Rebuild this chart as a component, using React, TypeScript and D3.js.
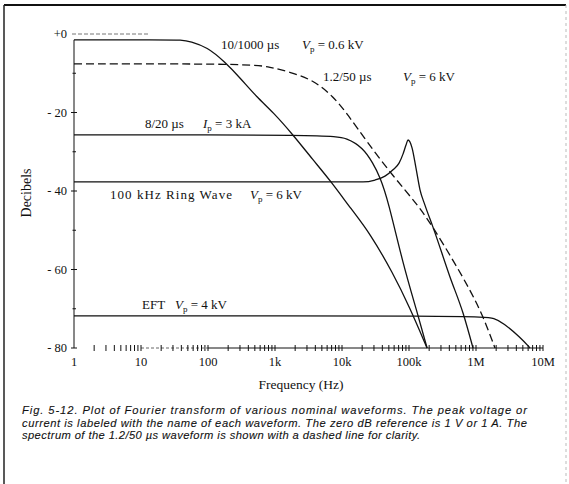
import React from 'react';
import * as d3 from 'd3';

// spectra: [frequency (Hz), level (dB)]
const wave10_1000: [number, number][] = [
  [1, -1.5], [19, -1.5], [42, -1.5], [54, -1.9], [97, -3.3], [178, -7.1],
  [302, -11.2], [537, -16.1], [933, -19.9], [1860, -25.7], [3700, -32.1],
  [6600, -37.2], [14000, -44.8], [26000, -50.7], [57500, -60.9],
  [102000, -69.6], [186000, -80],
];
const wave1_2_50: [number, number][] = [
  [1, -7.6], [424, -7.6], [842, -8.4], [1675, -9.7], [3690, -11.7],
  [7340, -15.8], [12300, -20.6], [23600, -27.5], [57700, -36.2],
  [136000, -43.6], [228000, -49.2], [454000, -57.6], [813000, -65.2],
  [1270000, -71.8], [1920000, -80],
];
const wave8_20: [number, number][] = [
  [1, -25.7], [6620, -25.7], [11900, -26.5], [20600, -29.0], [29000, -32.9],
  [36900, -36.4], [48600, -42.3], [81300, -58.6], [132000, -70.8],
  [186000, -80],
];
const ringWave: [number, number][] = [
  [1, -37.7], [20600, -37.7], [31100, -37.2], [43800, -36.2], [57700, -34.6],
  [71000, -32.9], [81300, -30.6], [90200, -28.3], [96600, -27.0],
  [111000, -29.0], [127000, -34.1], [146000, -39.7], [173000, -43.6],
  [228000, -49.2], [409000, -61.9], [640000, -71.1], [902000, -80],
];
const eft: [number, number][] = [
  [1, -71.8], [1150000, -71.8], [1920000, -72.4], [2530000, -73.6],
  [4540000, -77.2], [6400000, -80],
];

const xTicks = [1, 10, 100, 1e3, 1e4, 1e5, 1e6, 1e7];
const xTickLabels = ['1', '10', '100', '1k', '10k', '100k', '1M', '10M'];
const yTicks = [0, -20, -40, -60, -80];
const yTickLabels = ['+0', '- 20', '- 40', '- 60', '- 80'];
const yMinorTicks = [-10, -30, -50, -70];

const captionLines = [
  'Fig. 5-12. Plot of Fourier transform of various nominal waveforms. The peak voltage or',
  'current is labeled with the name of each waveform. The zero dB reference is 1 V or 1 A. The',
  'spectrum of the 1.2/50 \u00b5s waveform is shown with a dashed line for clarity.',
];
const captionWidths = [505, 505, 398];

const W = 569;
const H = 484;
const serif = '"Liberation Serif", "DejaVu Serif", serif';
const sans = '"Liberation Sans", Arial, sans-serif';

const x = d3.scaleLog().domain([1, 1e7]).range([74, 543]);
const y = d3.scaleLinear().domain([0, -80]).range([34, 348]);

const smooth = d3.line<[number, number]>()
  .x(d => x(d[0]))
  .y(d => y(d[1]))
  .curve(d3.curveBasis);
// the ring wave keeps its sharp resonance peak
const sharp = d3.line<[number, number]>()
  .x(d => x(d[0]))
  .y(d => y(d[1]))
  .curve(d3.curveMonotoneX);

// minor ticks: every integer multiple inside each decade
const xMinorTicks: number[] = [];
for (let d = 1; d < 1e7; d *= 10) {
  for (let k = 2; k <= 9; k++) xMinorTicks.push(d * k);
}

// label "name   Vp = value" with a subscript p
const WaveLabel = ({ x0, x1, yb, name, nameWidth, sym, value }: {
  x0: number; x1: number; yb: number; name: string; nameWidth?: number; sym: string; value: string;
}) => (
  <g fontFamily={serif} fontSize={13} fill="#111">
    <text x={x0} y={yb} textLength={nameWidth} lengthAdjust={nameWidth ? 'spacing' : undefined}>{name}</text>
    <text x={x1} y={yb}>
      <tspan fontStyle="italic">{sym}</tspan>
      <tspan fontSize={9} dy={3}>p</tspan>
      <tspan dy={-3}>{' = ' + value}</tspan>
    </text>
  </g>
);

export default function App() {
  const axisY = y(-80);
  return (
    <svg width={W} height={H} style={{ position: 'absolute', left: 0, top: 0, background: '#fff' }}>
      {/* frame */}
      <line x1={4} x2={566} y1={5} y2={5} stroke="#111" strokeWidth={2} />
      <line x1={4} x2={4} y1={5} y2={H} stroke="#222" strokeWidth={1.5} />
      <line x1={566} x2={566} y1={5} y2={H} stroke="#bbb" strokeWidth={1} strokeDasharray="3,3" />

      {/* y axis */}
      <line x1={x(1)} x2={x(1)} y1={y(-1.5)} y2={axisY} stroke="#111" strokeWidth={1} />
      <line x1={x(1) - 2} x2={150} y1={y(0)} y2={y(0)} stroke="#777" strokeWidth={1} strokeDasharray="4,2" />
      {yTicks.map((t, i) => (
        <g key={t}>
          {t !== 0 && <line x1={x(1) - 3} x2={x(1) + 3} y1={y(t)} y2={y(t)} stroke="#111" />}
          <text x={67} y={y(t) + 4} textAnchor="end" fontFamily={serif} fontSize={12.5} fill="#111">
            {yTickLabels[i]}
          </text>
        </g>
      ))}
      {yMinorTicks.map(t => (
        <line key={t} x1={x(1) - 1.5} x2={x(1) + 2} y1={y(t)} y2={y(t)} stroke="#111" />
      ))}
      <text transform={`translate(31,193) rotate(-90)`} textAnchor="middle"
        fontFamily={serif} fontSize={14} fill="#111">Decibels</text>

      {/* x axis */}
      <line x1={x(10)} x2={x(100)} y1={axisY} y2={axisY} stroke="#666" strokeDasharray="3,2" />
      <line x1={x(100)} x2={x(1e7)} y1={axisY} y2={axisY} stroke="#111" />
      {xMinorTicks.concat(xTicks.slice(1)).map(t => (
        <line key={t} x1={x(t)} x2={x(t)} y1={axisY - 3} y2={axisY + 3} stroke="#111" />
      ))}
      {xTicks.map((t, i) => (
        <text key={t} x={x(t)} y={axisY + 18} textAnchor="middle"
          fontFamily={serif} fontSize={12.5} fill="#111">{xTickLabels[i]}</text>
      ))}
      <text x={301} y={389} textAnchor="middle" fontFamily={serif} fontSize={13.5} fill="#111">
        Frequency (Hz)
      </text>

      {/* spectra */}
      <g fill="none" stroke="#111" strokeWidth={1.3}>
        <path d={smooth(wave10_1000) ?? ''} />
        <path d={smooth(wave1_2_50) ?? ''} strokeDasharray="8,4" />
        <path d={smooth(wave8_20) ?? ''} />
        <path d={sharp(ringWave) ?? ''} />
        <path d={smooth(eft) ?? ''} />
      </g>

      <WaveLabel x0={221} x1={302} yb={49} name={'10/1000 \u00b5s'} sym="V" value="0.6 kV" />
      <WaveLabel x0={323} x1={403} yb={81} name={'1.2/50 \u00b5s'} sym="V" value="6 kV" />
      <WaveLabel x0={145} x1={203} yb={128} name={'8/20 \u00b5s'} sym="I" value="3 kA" />
      <WaveLabel x0={110} x1={250} yb={199} name="100 kHz Ring Wave" nameWidth={122} sym="V" value="6 kV" />
      <WaveLabel x0={142} x1={175} yb={309} name="EFT" sym="V" value="4 kV" />

      {/* caption */}
      <g fontFamily={sans} fontStyle="italic" fontSize={11.2} fill="#111" stroke="#111" strokeWidth={0.1}>
        {captionLines.map((s, i) => (
          <text key={i} x={22} y={414 + i * 12.5} textLength={captionWidths[i]} lengthAdjust="spacing">
            {s}
          </text>
        ))}
      </g>
    </svg>
  );
}
